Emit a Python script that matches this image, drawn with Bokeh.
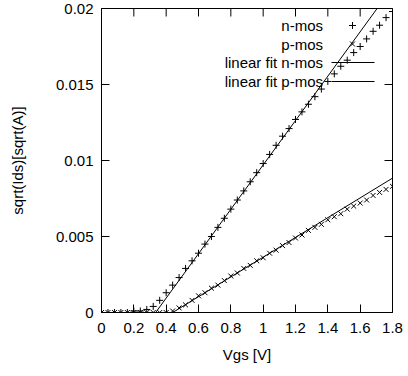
from bokeh.plotting import figure
from bokeh.models import Range1d, FixedTicker, CustomJSTickFormatter
from bokeh.core.properties import value
from bokeh.embed import file_html
from bokeh.resources import INLINE

# ---- data ----
vgs = [0.00, 0.04, 0.08, 0.12, 0.16, 0.20, 0.24, 0.28, 0.32, 0.36,
       0.40, 0.44, 0.48, 0.52, 0.56, 0.60, 0.64, 0.68, 0.72, 0.76,
       0.80, 0.84, 0.88, 0.92, 0.96, 1.00, 1.04, 1.08, 1.12, 1.16,
       1.20, 1.24, 1.28, 1.32, 1.36, 1.40, 1.44, 1.48, 1.52, 1.56,
       1.60, 1.64, 1.68, 1.72, 1.76, 1.80]
nmos = [0.0000, 0.0000, 0.0000, 0.0000, 0.0000, 0.0001, 0.0001, 0.0002, 0.0004, 0.0008,
        0.0013, 0.0018, 0.0023, 0.0029, 0.0034, 0.0039, 0.0045, 0.0050, 0.0056, 0.0062,
        0.0068, 0.0074, 0.0080, 0.0086, 0.0092, 0.0098, 0.0104, 0.0110, 0.0116, 0.0121,
        0.0127, 0.0132, 0.0137, 0.0142, 0.0147, 0.0152, 0.0157, 0.0162, 0.0166, 0.0171,
        0.0175, 0.0180, 0.0185, 0.0189, 0.0194, 0.0198]
pmos = [0.0000, 0.0000, 0.0000, 0.0000, 0.0000, 0.0000, 0.0000, 0.0000, 0.0000, 0.0000,
        0.0000, 0.0001, 0.0003, 0.0005, 0.0008, 0.0011, 0.0013, 0.0016, 0.0018, 0.0021,
        0.0024, 0.0026, 0.0029, 0.0031, 0.0034, 0.0036, 0.0039, 0.0041, 0.0044, 0.0046,
        0.0049, 0.0051, 0.0054, 0.0056, 0.0058, 0.0061, 0.0063, 0.0065, 0.0068, 0.0070,
        0.0072, 0.0074, 0.0077, 0.0079, 0.0081, 0.0083]
# linear fits: sqrt(Ids) = slope * (Vgs - vt)
nmos_fit_slope = 0.0146
nmos_fit_vt = 0.335
pmos_fit_slope = 0.0065
pmos_fit_vt = 0.44

x_ticks = [0, 0.2, 0.4, 0.6, 0.8, 1, 1.2, 1.4, 1.6, 1.8]
x_tick_labels = ["0", "0.2", "0.4", "0.6", "0.8", "1", "1.2", "1.4", "1.6", "1.8"]
y_ticks = [0, 0.005, 0.01, 0.015, 0.02]
y_tick_labels = ["0", "0.005", "0.01", "0.015", "0.02"]
legend_labels = ["n-mos", "p-mos", "linear fit n-mos", "linear fit p-mos"]

# ---- layout ----
W, H = 408, 376
L, R, T, B = 101, 16, 8, 64
XMIN, XMAX, YMIN, YMAX = 0.0, 1.8, 0.0, 0.02
FW, FH = W - L - R, H - T - B
FONT = "Liberation Sans"
FS = "15px"
TICK = 8

p = figure(width=W, height=H, output_backend="svg", toolbar_location=None,
           x_range=Range1d(XMIN, XMAX), y_range=Range1d(YMIN, YMAX),
           min_border_left=L, min_border_right=R, min_border_top=T, min_border_bottom=B,
           x_axis_label="Vgs [V]", y_axis_label="sqrt(Ids)[sqrt(A)]")
p.grid.visible = False
p.outline_line_color = "black"
p.outline_line_width = 1
p.background_fill_color = "white"
p.border_fill_color = "white"


def fmt(vals, labs):
    return CustomJSTickFormatter(args=dict(vals=vals, labs=labs), code="""
let best = 0;
for (let i = 0; i < vals.length; i++) {
  if (Math.abs(vals[i] - tick) < Math.abs(vals[best] - tick)) best = i;
}
return labs[best];
""")


def style(ax, ticks, labs):
    ax.ticker = FixedTicker(ticks=ticks)
    ax.formatter = fmt(ticks, labs)
    ax.minor_tick_line_color = None
    ax.major_tick_in = TICK
    ax.major_tick_out = 0
    ax.axis_line_color = "black"
    ax.major_tick_line_color = "black"
    ax.major_label_text_font = FONT
    ax.major_label_text_font_size = FS
    ax.major_label_text_color = "black"
    ax.axis_label_text_font = FONT
    ax.axis_label_text_font_size = FS
    ax.axis_label_text_font_style = "normal"
    ax.axis_label_text_color = "black"


style(p.xaxis[0], x_ticks, x_tick_labels)
style(p.yaxis[0], y_ticks, y_tick_labels)
p.xaxis[0].major_label_standoff = 10
p.xaxis[0].axis_label_standoff = 10
p.yaxis[0].major_label_standoff = 8
p.yaxis[0].axis_label_standoff = 27

# mirrored inward ticks on the top and right borders (gnuplot style)
ty = TICK / FH * (YMAX - YMIN)
tx = TICK / FW * (XMAX - XMIN)
p.segment(x_ticks, [YMAX] * len(x_ticks), x_ticks, [YMAX - ty] * len(x_ticks),
          line_color="black", line_width=1)
p.segment([XMAX] * len(y_ticks), y_ticks, [XMAX - tx] * len(y_ticks), y_ticks,
          line_color="black", line_width=1)

# fit lines (clipped by the frame)
p.line([XMIN, XMAX], [nmos_fit_slope * (XMIN - nmos_fit_vt), nmos_fit_slope * (XMAX - nmos_fit_vt)],
       line_color="black", line_width=1)
p.line([XMIN, XMAX], [pmos_fit_slope * (XMIN - pmos_fit_vt), pmos_fit_slope * (XMAX - pmos_fit_vt)],
       line_color="black", line_width=1)

# data
MS = 7
p.scatter(vgs, nmos, marker="cross", size=MS, line_color="black", line_width=1)
p.scatter(vgs, pmos, marker="x", size=MS, line_color="black", line_width=1)


# ---- gnuplot-style key (text then sample), placed in pixel terms ----
def dx(px):
    return XMIN + (px - L) / FW * (XMAX - XMIN)


def dy(py):
    return YMIN + (T + FH - py) / FH * (YMAX - YMIN)


rows = [25, 43.5, 62, 81]
text_right = 322.5
p.text([dx(text_right)] * 4, [dy(r) for r in rows], text=legend_labels,
       text_align="right", text_baseline="middle",
       text_font=value(FONT), text_font_size=FS, text_color="black")
p.scatter([dx(352)], [dy(rows[0])], marker="cross", size=MS, line_color="black", line_width=1)
p.scatter([dx(352)], [dy(rows[1])], marker="x", size=MS, line_color="black", line_width=1)
p.segment([dx(331), dx(331)], [dy(rows[2]), dy(rows[3])],
          [dx(374), dx(374)], [dy(rows[2]), dy(rows[3])],
          line_color="black", line_width=1)

open("out.html", "w").write(file_html(p, INLINE))
